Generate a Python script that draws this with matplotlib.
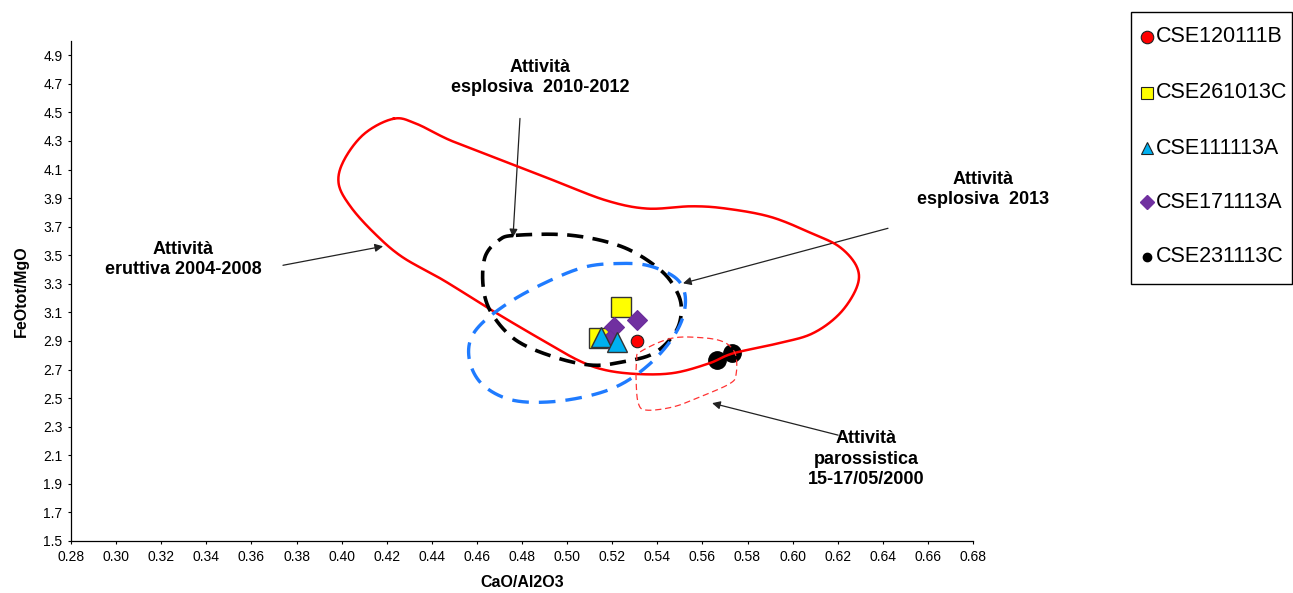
import numpy as np
import matplotlib
matplotlib.use("Agg")
import matplotlib.pyplot as plt
from matplotlib.lines import Line2D
from matplotlib.patches import Rectangle

plt.rcParams['font.family'] = ['Liberation Sans', 'DejaVu Sans']

# --- sample compositions (CaO/Al2O3, FeOtot/MgO) ---
samples = ["CSE120111B", "CSE261013C", "CSE111113A", "CSE171113A", "CSE231113C"]
cse120111b_x = [0.531]
cse120111b_y = [2.90]
cse261013c_x = [0.524, 0.514]
cse261013c_y = [3.14, 2.92]
cse111113a_x = [0.515, 0.522]
cse111113a_y = [2.93, 2.89]
cse171113a_x = [0.531, 0.521, 0.519]
cse171113a_y = [3.05, 3.00, 2.91]
cse231113c_x = [0.5665, 0.573]
cse231113c_y = [2.77, 2.815]

# --- compositional fields (closed outlines) ---
eruttiva_x = [0.4231, 0.4101, 0.4010, 0.3987, 0.4041, 0.4147, 0.4269, 0.4452,
              0.4666, 0.4865, 0.5048, 0.5171, 0.5323, 0.5476, 0.5629, 0.5735,
              0.5934, 0.6087, 0.6209, 0.6285, 0.6285, 0.6209, 0.6087, 0.5904,
              0.5705, 0.5552, 0.5354, 0.5171, 0.4941, 0.4712, 0.4483, 0.4331]
eruttiva_y = [4.456, 4.351, 4.164, 4.001, 3.838, 3.652, 3.488, 3.325,
              3.115, 2.929, 2.766, 2.696, 2.668, 2.677, 2.743, 2.813,
              2.883, 2.952, 3.092, 3.278, 3.418, 3.558, 3.652, 3.768,
              3.827, 3.843, 3.827, 3.885, 4.024, 4.164, 4.304, 4.421]

esplosiva1012_x = [0.4773, 0.5018, 0.5247, 0.5415, 0.5491, 0.5506, 0.5476, 0.5384,
                   0.5247, 0.5109, 0.4941, 0.4773, 0.4666, 0.4628, 0.4636, 0.4697]
esplosiva1012_y = [3.640, 3.640, 3.558, 3.395, 3.232, 3.092, 2.952, 2.813,
                   2.754, 2.731, 2.789, 2.906, 3.092, 3.278, 3.488, 3.605]

esplosiva2013_x = [0.5216, 0.5354, 0.5476, 0.5522, 0.5514, 0.5461, 0.5369, 0.5247,
                   0.5109, 0.4926, 0.4758, 0.4636, 0.4575, 0.4567, 0.4621, 0.4758,
                   0.4926, 0.5079]
esplosiva2013_y = [3.442, 3.430, 3.348, 3.232, 3.069, 2.906, 2.743, 2.603,
                   2.521, 2.474, 2.486, 2.579, 2.719, 2.883, 3.022, 3.185,
                   3.325, 3.418]

parossistica_x = [0.5324, 0.5457, 0.5590, 0.5693, 0.5745, 0.5750, 0.5723, 0.5590,
                  0.5471, 0.5353, 0.5316, 0.5306, 0.5309]
parossistica_y = [2.824, 2.917, 2.924, 2.894, 2.813, 2.673, 2.603, 2.509,
                  2.439, 2.416, 2.463, 2.626, 2.766]

x_ticks = [0.28, 0.30, 0.32, 0.34, 0.36, 0.38, 0.40, 0.42, 0.44, 0.46, 0.48,
           0.50, 0.52, 0.54, 0.56, 0.58, 0.60, 0.62, 0.64, 0.66, 0.68]
y_ticks = [1.5, 1.7, 1.9, 2.1, 2.3, 2.5, 2.7, 2.9, 3.1, 3.3, 3.5, 3.7, 3.9,
           4.1, 4.3, 4.5, 4.7, 4.9]


def closed_spline(xs, ys, n=24):
    """Closed Catmull-Rom curve through the outline vertices."""
    p = np.column_stack([xs, ys])
    m = len(p)
    out = []
    t = np.linspace(0, 1, n, endpoint=False)[:, None]
    for i in range(m):
        p0, p1, p2, p3 = p[i - 1], p[i], p[(i + 1) % m], p[(i + 2) % m]
        seg = 0.5 * ((2 * p1) + (-p0 + p2) * t
                     + (2 * p0 - 5 * p1 + 4 * p2 - p3) * t ** 2
                     + (-p0 + 3 * p1 - 3 * p2 + p3) * t ** 3)
        out.append(seg)
    out.append(p[:1])
    c = np.vstack(out)
    return c[:, 0], c[:, 1]


W, H = 1293, 593
fig = plt.figure(figsize=(W / 100, H / 100), dpi=100)
ax = fig.add_axes([71 / W, 1 - 541 / H, (973 - 71) / W, (541 - 41) / H])

ax.set_xlim(0.28, 0.68)
ax.set_ylim(1.5, 5.0)
for s in ("top", "right"):
    ax.spines[s].set_visible(False)
for s in ("left", "bottom"):
    ax.spines[s].set_linewidth(0.9)
ax.set_xticks(x_ticks)
ax.set_xticklabels([f"{v:.2f}" for v in x_ticks],
                   fontfamily=['Liberation Sans Narrow', 'Liberation Sans'], fontsize=10)
ax.set_yticks(y_ticks)
ax.set_yticklabels([f"{v:.1f}" for v in y_ticks], fontsize=10)
ax.tick_params(direction="out", length=2.2, width=0.8, pad=4)

ax.set_xlabel("CaO/Al2O3", fontsize=11.5, fontweight="bold", labelpad=8)
ax.set_ylabel("FeOtot/MgO", fontsize=11.5, fontweight="bold", labelpad=10)

# field outlines
cx, cy = closed_spline(eruttiva_x, eruttiva_y)
ax.plot(cx, cy, color="#ff0000", lw=1.8, zorder=4)
cx, cy = closed_spline(esplosiva1012_x, esplosiva1012_y)
ax.plot(cx, cy, color="black", lw=2.6, dashes=(4.5, 2.6), zorder=4)
cx, cy = closed_spline(esplosiva2013_x, esplosiva2013_y)
ax.plot(cx, cy, color="#1f7bff", lw=2.4, dashes=(5, 3), zorder=4)
cx, cy = closed_spline(parossistica_x, parossistica_y)
ax.plot(cx, cy, color="#ff3333", lw=0.9, dashes=(5, 3), zorder=4)

# samples
ax.plot(cse231113c_x, cse231113c_y, ls="none", marker="o", ms=12.5,
        mfc="black", mec="black", zorder=3)
ax.plot(cse261013c_x, cse261013c_y, ls="none", marker="s", ms=14,
        mfc="#ffff00", mec="#333333", mew=1.0, zorder=3)
ax.plot(cse171113a_x, cse171113a_y, ls="none", marker="D", ms=10,
        mfc="#7030a0", mec="#6a2c9a", mew=0.8, zorder=3)
ax.plot(cse111113a_x, cse111113a_y, ls="none", marker="^", ms=15,
        mfc="#00b0f0", mec="#333333", mew=1.0, zorder=3)
ax.plot(cse120111b_x, cse120111b_y, ls="none", marker="o", ms=9,
        mfc="#ff0000", mec="#222222", mew=0.8, zorder=3)

# field labels
txt = dict(ha="center", va="center", fontsize=13, fontweight="bold", linespacing=1.25)
arr = dict(arrowstyle="-|>", color="#222222", lw=0.9, mutation_scale=12,
           shrinkA=0, shrinkB=0)
ax.text(0.488, 4.745, "Attività\nesplosiva  2010-2012", **txt)
ax.annotate("", xy=(0.4760, 3.626), xytext=(0.4791, 4.458), arrowprops=arr)
ax.text(0.3297, 3.472, "Attività\neruttiva 2004-2008", **txt)
ax.annotate("", xy=(0.4184, 3.563), xytext=(0.374, 3.430), arrowprops=arr)
ax.text(0.6845, 3.962, "Attività\nesplosiva  2013", **txt)
ax.annotate("", xy=(0.5514, 3.304), xytext=(0.6423, 3.689), arrowprops=arr)
ax.text(0.6326, 2.073, "Attività\nparossistica\n15-17/05/2000", **txt)
ax.annotate("", xy=(0.5643, 2.465), xytext=(0.6202, 2.241), arrowprops=arr)

# legend box at the right edge
fig.add_artist(Rectangle((1131 / W, 1 - 284 / H), (1292 - 1131) / W, (284 - 12) / H,
                         transform=fig.transFigure, fill=False, ec="black", lw=1.0))
legend_styles = [
    dict(marker="o", ms=9, mfc="#ff0000", mec="#222222", mew=0.8),
    dict(marker="s", ms=8.5, mfc="#ffff00", mec="#222222", mew=0.8),
    dict(marker="^", ms=8.5, mfc="#00b0f0", mec="#222222", mew=0.8),
    dict(marker="D", ms=7, mfc="#7030a0", mec="#7030a0"),
    dict(marker="o", ms=6, mfc="black", mec="black"),
]
row_y = [37, 93, 148, 202, 257]
for name, style, ry in zip(samples, legend_styles, row_y):
    fy = 1 - ry / H
    fig.add_artist(Line2D([1146.5 / W], [fy], ls="none", transform=fig.transFigure, **style))
    fig.text(1156 / W, fy, name, fontsize=15.5, va="center", ha="left")

fig.savefig("out.png", dpi=100)
